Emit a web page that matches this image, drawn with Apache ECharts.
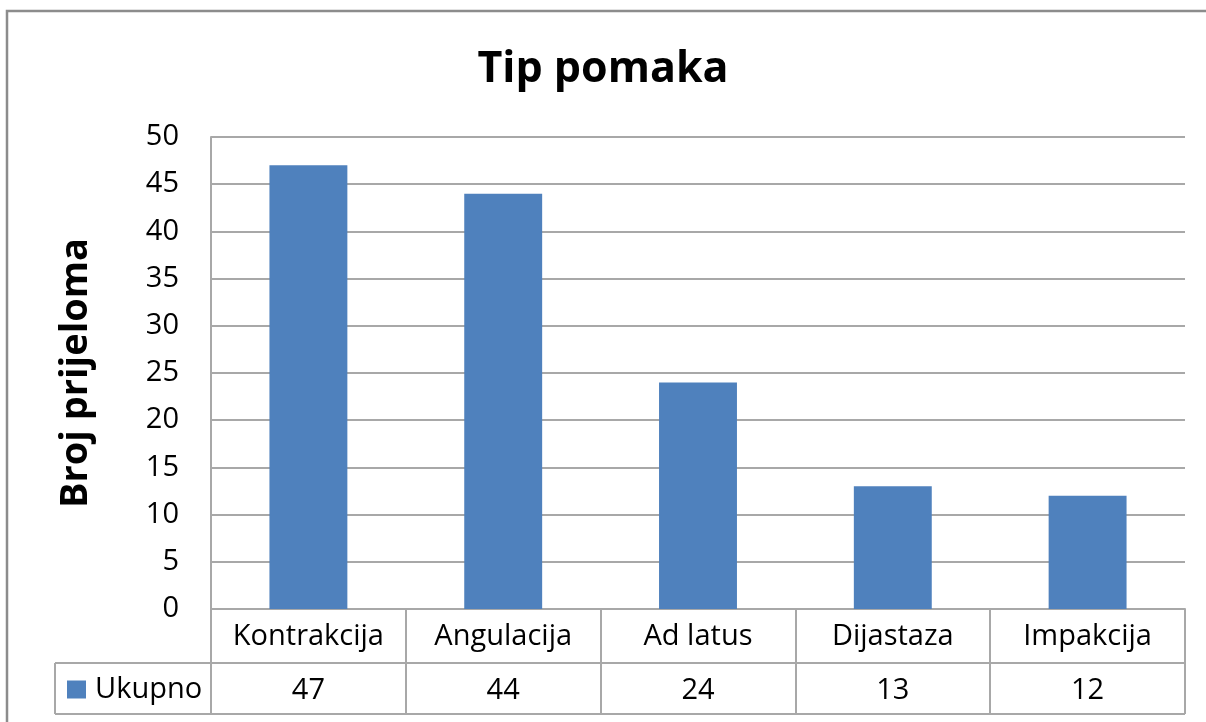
<!DOCTYPE html>
<html>
<head>
<meta charset="utf-8">
<script src="https://cdn.jsdelivr.net/npm/echarts@6/dist/echarts.min.js"></script>
<style>html,body{margin:0;padding:0;background:#fff}#c{width:1206px;height:722px}</style>
</head>
<body>
<div id="c"></div>
<script>
var categories = ['Kontrakcija', 'Angulacija', 'Ad latus', 'Dijastaza', 'Impakcija'];
var values = [47, 44, 24, 13, 12];
var seriesName = 'Ukupno';
var titleText = 'Tip pomaka';
var yAxisName = 'Broj prijeloma';

var FONT = 'Open Sans';
var GRID = '#a8a8a8';
var chart = echarts.init(document.getElementById('c'), null, {renderer: 'canvas'});
chart.setOption({
  animation: false,
  backgroundColor: '#fff',
  title: {
    text: titleText, left: 'center', top: 43,
    textStyle: {fontFamily: FONT, fontSize: 43, fontWeight: 'bold', color: '#000'}
  },
  legend: {
    data: [seriesName], left: 62, top: 670, icon: 'rect', itemWidth: 19, itemHeight: 18,
    textStyle: {fontFamily: FONT, fontSize: 29, color: '#000', padding: [0, 0, 0, 4]}
  },
  grid: {left: 211, right: 21, top: 137, bottom: 113, containLabel: false},
  xAxis: [{
    type: 'category', data: categories, position: 'bottom',
    axisLine: {show: true, lineStyle: {color: GRID, width: 2}},
    axisTick: {show: true, length: 105, lineStyle: {color: GRID, width: 2}},
    axisLabel: {fontFamily: FONT, fontSize: 29, color: '#000', margin: 13, interval: 0}
  }, {
    type: 'category', data: categories, position: 'bottom', offset: 54,
    axisLine: {show: false}, axisTick: {show: false},
    axisLabel: {fontFamily: FONT, fontSize: 29, color: '#000', margin: 13, interval: 0,
      formatter: function (v, i) { return String(values[i]); }}
  }],
  yAxis: {
    type: 'value', min: 0, max: 50, interval: 5,
    name: yAxisName, nameLocation: 'middle', nameRotate: 90, nameGap: 116,
    nameTextStyle: {fontFamily: FONT, fontSize: 38, fontWeight: 'bold', color: '#000'},
    axisLine: {show: true, lineStyle: {color: GRID, width: 2}},
    axisTick: {show: false},
    axisLabel: {fontFamily: FONT, fontSize: 29, color: '#000', margin: 32},
    splitLine: {show: true, lineStyle: {color: GRID, width: 2}}
  },
  series: [{
    name: seriesName, type: 'bar', data: values, barWidth: '40%',
    itemStyle: {color: '#4f81bd'}
  }],
  graphic: [
    {type: 'rect', shape: {x: 7, y: 11, width: 1230, height: 740}, style: {fill: 'none', stroke: '#8c8c8c', lineWidth: 2.5}, silent: true},
    {type: 'line', shape: {x1: 55, y1: 663, x2: 1185, y2: 663}, style: {stroke: GRID, lineWidth: 2}, silent: true},
    {type: 'line', shape: {x1: 55, y1: 714, x2: 1185, y2: 714}, style: {stroke: GRID, lineWidth: 2}, silent: true},
    {type: 'line', shape: {x1: 55, y1: 663, x2: 55, y2: 714}, style: {stroke: GRID, lineWidth: 2}, silent: true}
  ]
});
</script>
</body>
</html>
